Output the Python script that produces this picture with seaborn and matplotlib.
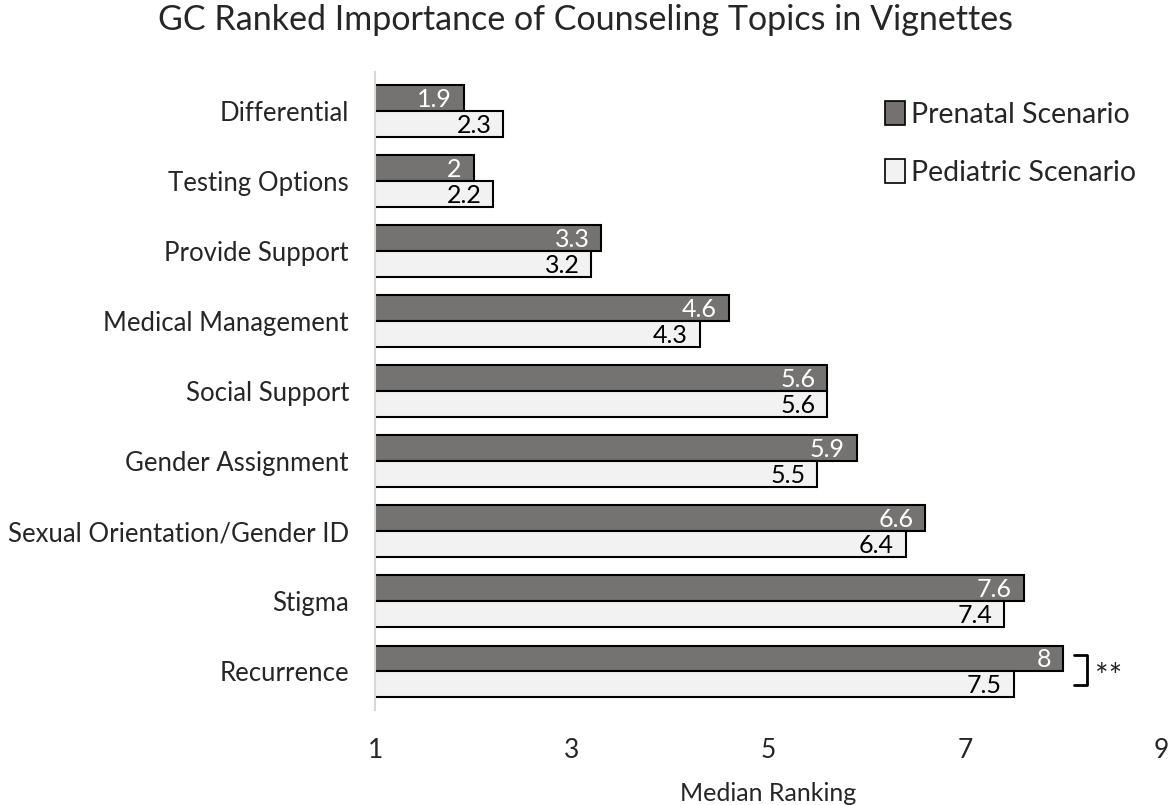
import pandas as pd
import matplotlib
matplotlib.use('Agg')
import matplotlib.pyplot as plt
import matplotlib.patches as mpatches
import seaborn as sns

# Dados
topicos = ['Differential', 'Testing Options', 'Provide Support', 'Medical Management',
           'Social Support', 'Gender Assignment', 'Sexual Orientation/Gender ID',
           'Stigma', 'Recurrence']
prenatal = [1.9, 2, 3.3, 4.6, 5.6, 5.9, 6.6, 7.6, 8]
pediatric = [2.3, 2.2, 3.2, 4.3, 5.6, 5.5, 6.4, 7.4, 7.5]
cenarios = ['Prenatal Scenario', 'Pediatric Scenario']
rotulos_x = ['1', '3', '5', '7', '9']

df = pd.DataFrame({
    'topico': topicos * 2,
    'valor': prenatal + pediatric,
    'cenario': [cenarios[0]] * len(topicos) + [cenarios[1]] * len(topicos),
})

sns.set_style('white')
plt.rcParams['font.family'] = ['Lato', 'DejaVu Sans']

cores = {cenarios[0]: '#767171', cenarios[1]: '#F2F2F2'}

fig, ax = plt.subplots(figsize=(11.73, 8.05), dpi=100)
fig.subplots_adjust(left=0.32, right=0.99, top=0.91, bottom=0.118)

sns.barplot(data=df, y='topico', x='valor', hue='cenario', palette=cores,
            orient='h', width=0.74, edgecolor='black', linewidth=1.5,
            legend=False, ax=ax)

# Rótulos dentro da ponta das barras
for cont, cor_txt in zip(ax.containers, ['white', 'black']):
    for p in cont:
        w = p.get_width()
        lbl = f'{w:g}'
        ax.text(w - 0.12, p.get_y() + p.get_height() / 2 + 0.02, lbl,
                ha='right', va='center', fontsize=18, color=cor_txt)

ax.set_xlim(1, 9)
ax.set_xticks([1, 3, 5, 7, 9])
ax.set_xticklabels(rotulos_x, fontsize=19)
ax.set_ylim(len(topicos) - 0.45, -0.55)
ax.set_ylabel('')
ax.set_xlabel('Median Ranking', fontsize=18, labelpad=14)
ax.tick_params(axis='y', labelsize=18.5, length=0, pad=19)
ax.tick_params(axis='x', length=0, pad=20)

for s in ['top', 'right', 'bottom']:
    ax.spines[s].set_visible(False)
ax.spines['left'].set_color('#D9D9D9')
ax.spines['left'].set_linewidth(1.5)

fig.suptitle('GC Ranked Importance of Counseling Topics in Vignettes',
             fontsize=24.5, x=0.499, y=0.995, va='top')

# Colchete de significância para Recurrence
idx = len(topicos) - 1
ax.plot([8.11, 8.24, 8.24, 8.11], [idx - 0.23, idx - 0.23, idx + 0.2, idx + 0.2],
        color='black', lw=2, clip_on=False)
ax.text(8.33, idx + 0.1, '**', fontsize=23, va='center', ha='left')

handles = [mpatches.Patch(facecolor=cores[c], edgecolor='black', linewidth=1.2, label=c)
           for c in cenarios]
ax.legend(handles=handles, loc='upper right', bbox_to_anchor=(1.0, 0.995), frameon=False,
          fontsize=20.5, handlelength=0.7, handleheight=0.9, handletextpad=0.2,
          labelspacing=1.1)

fig.savefig('out.png', dpi=100)
